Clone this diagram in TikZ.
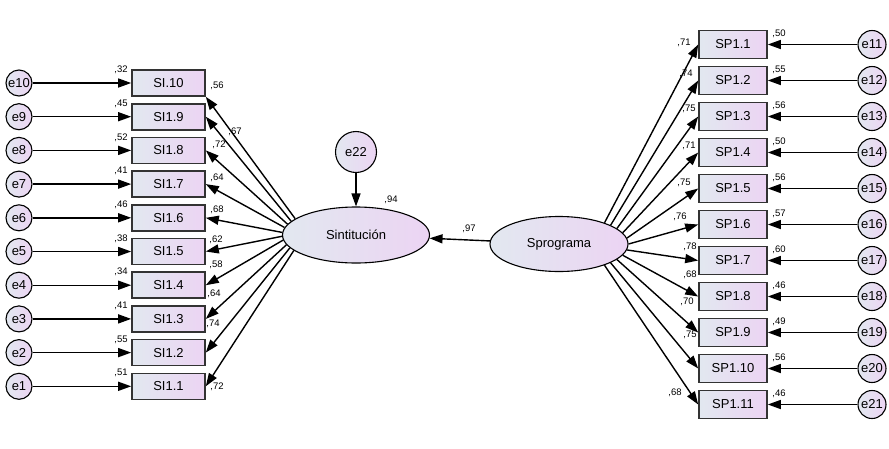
\documentclass[tikz,border=0pt]{standalone}
\usepackage{fontspec}
\setmainfont{Liberation Sans}
\usetikzlibrary{arrows.meta,shapes.geometric}
\definecolor{fillleft}{RGB}{226,232,240}
\definecolor{fillright}{RGB}{236,212,243}
\tikzset{
  observed/.style={
    draw=black!80, line width=1.6pt, left color=fillleft, right color=fillright,
    minimum width=73pt, minimum height=26pt, inner sep=0pt,
    font=\fontsize{13}{15}\selectfont,
  },
  errvar/.style={
    circle, draw, line width=1.1pt, left color=fillleft, right color=fillright,
    minimum size=26pt, inner sep=0pt, font=\fontsize{13}{15}\selectfont,
  },
  latent/.style={
    ellipse, draw, line width=1.1pt, left color=fillleft, right color=fillright,
    inner sep=0pt, font=\fontsize{13}{15}\selectfont,
  },
  regpath/.style={-{Triangle[length=13pt,width=9pt]}, line width=1.4pt},
  coef/.style={inner sep=0pt, font=\fontsize{9.5}{11}\selectfont},
}

\begin{document}
\begin{tikzpicture}[x=1pt,y=-1pt]
    \useasboundingbox (0,0) rectangle (889,448);

    % latent variables
    \node[latent, minimum width=147pt, minimum height=56pt] (sint) at (356,235) {Sintitución};
    \node[latent, minimum width=138pt, minimum height=55pt] (sprog) at (559,244) {Sprograma};
    \node[errvar, minimum size=41pt] (e22) at (356,152) {e22};

    \draw[regpath] (e22) -- (sint);
    \draw[regpath] (sprog) -- (sint);
    \node[coef] at (391,200) {,94};
    \node[coef] at (469,229) {,97};

    % left indicators SI (number/label/variance/loading/label pos/anchor)
    \foreach \n/\lab/\var/\load/\lx/\ly/\anc in {
        10/SI.10/32/56/217/86/south east,
        9/SI1.9/45/67/235/132/east,
        8/SI1.8/52/72/219/145/east,
        7/SI1.7/41/64/217/178/east,
        6/SI1.6/46/68/217/210/east,
        5/SI1.5/38/62/216/240/east,
        4/SI1.4/34/58/216/265/east,
        3/SI1.3/41/64/214/294/east,
        2/SI1.2/55/74/213/324/east,
        1/SI1.1/51/72/217/387/east}{
        \pgfmathsetmacro\yrow{83+(10-\n)*33.7}
        \pgfmathsetmacro\ang{165+(10-\n)*3.3}
        \node[observed] (si\n) at (168.5,\yrow) {\lab};
        \node[errvar] (e\n) at (19,\yrow) {e\n};
        \draw[regpath] (e\n) -- (si\n);
        \draw[regpath] (sint.\ang) -- (si\n.\anc);
        \node[coef] at (121,\yrow-13) {,\var};
        \node[coef] at (\lx,\ly) {,\load};
    }

    % right indicators SP
    \foreach \n/\var/\load/\lx/\ly [evaluate=\n as \m using int(\n+10)] in {
        1/50/71/684/43,
        2/55/74/686/74,
        3/56/75/689/109,
        4/50/71/689/146,
        5/56/75/684/183,
        6/57/76/680/217,
        7/60/78/690/247,
        8/46/68/690/275,
        9/49/70/687/302,
        10/56/75/690/335,
        11/46/68/675/393}{
        \pgfmathsetmacro\yrow{44.5+(\n-1)*36}
        \pgfmathsetmacro\ang{25-(\n-1)*5}
        \node[observed, minimum width=68pt, minimum height=28pt] (sp\n) at (733,\yrow) {SP1.\n};
        \node[errvar, minimum size=28pt] (e\m) at (872,\yrow) {e\m};
        \draw[regpath] (e\m) -- (sp\n);
        \draw[regpath] (sprog.\ang) -- (sp\n.west);
        \node[coef] at (779,\yrow-11) {,\var};
        \node[coef] at (\lx,\ly) {,\load};
    }
\end{tikzpicture}
\end{document}
